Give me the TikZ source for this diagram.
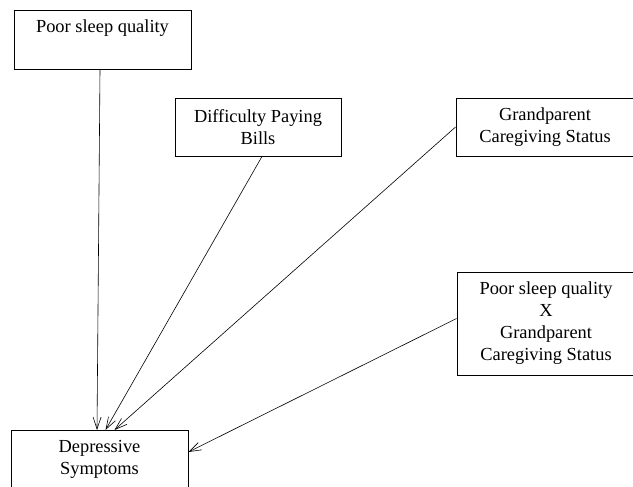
\documentclass[tikz,border=0pt]{standalone}
\usepackage{fontspec}
\setmainfont{Liberation Serif}
\usetikzlibrary{arrows.meta}
\tikzset{
  var/.style={draw, line width=0.9pt, align=center, inner sep=0pt},
  flow/.style={-{Straight Barb[length=12pt,width=8pt]}, line width=0.6pt}
}

\begin{document}
\begin{tikzpicture}[x=1pt, y=-1pt, font=\fontsize{18.4}{22}\selectfont]
  \useasboundingbox (0,0) rectangle (633,487);
  \clip (0,0) rectangle (633,487);

  \node[var, minimum width=177pt, minimum height=59pt,
        label={[anchor=north, yshift=-7pt]north:Poor sleep quality}] (psq) at (102.5,39.5) {};
  \node[var, minimum width=166pt, minimum height=58pt] (dpb) at (258,127) {Difficulty Paying\\Bills};
  \node[var, minimum width=178pt, minimum height=58pt] (gcs) at (545,127) {Grandparent\\Caregiving Status};
  \node[var, minimum width=178pt, minimum height=103pt] (inter) at (546,323.5)
        {Poor sleep quality\\X\\Grandparent\\Caregiving Status};
  \node[var, minimum width=177pt, minimum height=80pt, anchor=north,
        label={[anchor=north, yshift=-7pt, align=center]north:Depressive\\Symptoms}] (dep) at (99.5,430) {};

  \draw[flow] ([xshift=-2.5pt]psq.south) -- ([xshift=-2.5pt]dep.north);
  \draw[flow] ([xshift=4pt]dpb.south) -- ([xshift=6pt]dep.north);
  \draw[flow] (gcs.west) -- ([xshift=15pt]dep.north);
  \draw[flow] ([yshift=5pt]inter.west) -- ([yshift=-22pt]dep.north east);
\end{tikzpicture}
\end{document}
